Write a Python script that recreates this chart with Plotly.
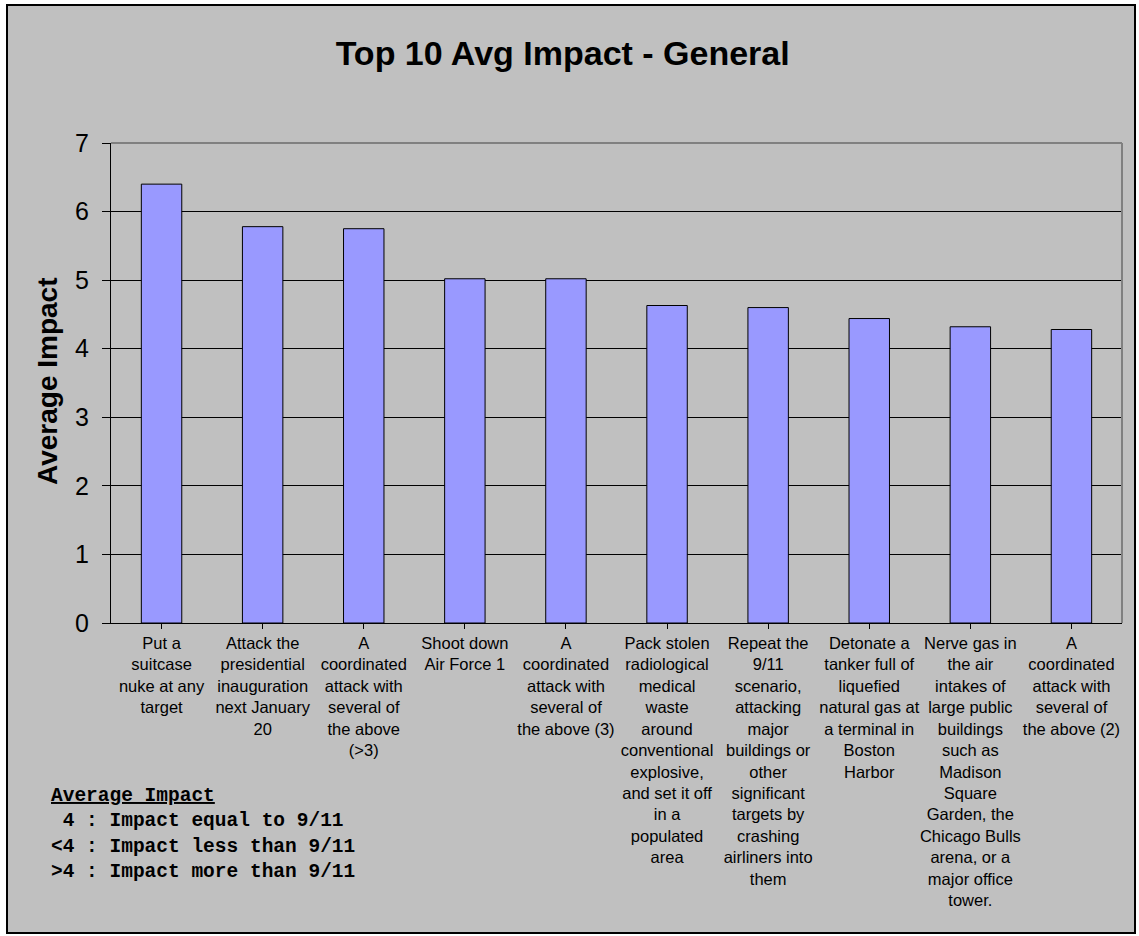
import plotly.graph_objects as go

categories = [
    "Put a<br>suitcase<br>nuke at any<br>target",
    "Attack the<br>presidential<br>inauguration<br>next January<br>20",
    "A<br>coordinated<br>attack with<br>several of<br>the above<br>(>3)",
    "Shoot down<br>Air Force 1",
    "A<br>coordinated<br>attack with<br>several of<br>the above (3)",
    "Pack stolen<br>radiological<br>medical<br>waste<br>around<br>conventional<br>explosive,<br>and set it off<br>in a<br>populated<br>area",
    "Repeat the<br>9/11<br>scenario,<br>attacking<br>major<br>buildings or<br>other<br>significant<br>targets by<br>crashing<br>airliners into<br>them",
    "Detonate a<br>tanker full of<br>liquefied<br>natural gas at<br>a terminal in<br>Boston<br>Harbor",
    "Nerve gas in<br>the air<br>intakes of<br>large public<br>buildings<br>such as<br>Madison<br>Square<br>Garden, the<br>Chicago Bulls<br>arena, or a<br>major office<br>tower.",
    "A<br>coordinated<br>attack with<br>several of<br>the above (2)",
]
avg_impact = [6.40, 5.78, 5.75, 5.02, 5.02, 4.63, 4.60, 4.44, 4.32, 4.28]
y_ticks = [0, 1, 2, 3, 4, 5, 6, 7]

title_text = "Top 10 Avg Impact - General"
y_title = "Average Impact"
legend_lines = [
    "<u>Average Impact</u>",
    "\u00a04 : Impact equal to 9/11",
    "<4 : Impact less than 9/11",
    ">4 : Impact more than 9/11",
]

GRAY = "#C0C0C0"
SANS = "Liberation Sans, Arial, sans-serif"

fig = go.Figure(
    go.Bar(
        x=list(range(len(categories))),
        y=avg_impact,
        marker=dict(color="#9999FF", line=dict(color="black", width=1)),
    )
)

fig.update_layout(
    width=1139,
    height=936,
    margin=dict(l=111, r=17, t=143, b=313),
    paper_bgcolor="white",
    plot_bgcolor=GRAY,
    bargap=0.6,
    showlegend=False,
    font=dict(family=SANS, color="black"),
    title=dict(
        text=title_text,
        x=0.494, xanchor="center", xref="container",
        y=1 - 53 / 936, yanchor="middle", yref="container",
        font=dict(size=34, family=SANS, color="black", weight="bold"),
    ),
)

fig.update_xaxes(
    tickmode="array",
    tickvals=list(range(len(categories))),
    ticktext=categories,
    range=[-0.5, len(categories) - 0.5],
    tickson="boundaries",
    ticks="outside",
    ticklen=5,
    tickcolor="black",
    showline=True,
    linecolor="black",
    linewidth=1,
    showgrid=False,
    tickangle=0,
    tickfont=dict(size=16.5, family=SANS, color="black"),
    zeroline=False,
)

fig.update_yaxes(
    range=[0, 7],
    tickvals=y_ticks,
    ticks="outside",
    ticklen=8,
    tickcolor="black",
    showline=True,
    linecolor="black",
    linewidth=1,
    showgrid=True,
    gridcolor="black",
    gridwidth=1,
    zeroline=False,
    tickfont=dict(size=25, family=SANS, color="black"),
    ticklabelstandoff=8,
)

# outer chart frame
fig.add_shape(
    type="rect", xref="paper", yref="paper",
    x0=(7 - 111) / 1011, x1=(1135 - 111) / 1011,
    y0=(623 - 933) / 480, y1=(623 - 5) / 480,
    line=dict(color="black", width=2), fillcolor=GRAY, layer="below",
)
# gray plot-area border (top and right)
fig.add_shape(type="line", xref="paper", yref="paper", x0=0, x1=1, y0=1, y1=1,
              line=dict(color="#808080", width=2), layer="above")
fig.add_shape(type="line", xref="paper", yref="paper", x0=1, x1=1, y0=0, y1=1,
              line=dict(color="#808080", width=2), layer="above")

# y axis title
fig.add_annotation(
    text=y_title, xref="paper", yref="paper",
    x=(47 - 111) / 1011, y=(623 - 381) / 480,
    xanchor="center", yanchor="middle", textangle=-90, showarrow=False,
    font=dict(size=28, family=SANS, color="black", weight="bold"),
)

# explanatory note
fig.add_annotation(
    text="<br>".join(legend_lines), xref="paper", yref="paper",
    x=(49 - 111) / 1011, y=(623 - 783) / 480,
    xanchor="left", yanchor="top", align="left", showarrow=False,
    font=dict(size=19.5, family="Liberation Mono, Courier New, monospace", color="black", weight="bold"),
)

fig.write_html("out.html")
